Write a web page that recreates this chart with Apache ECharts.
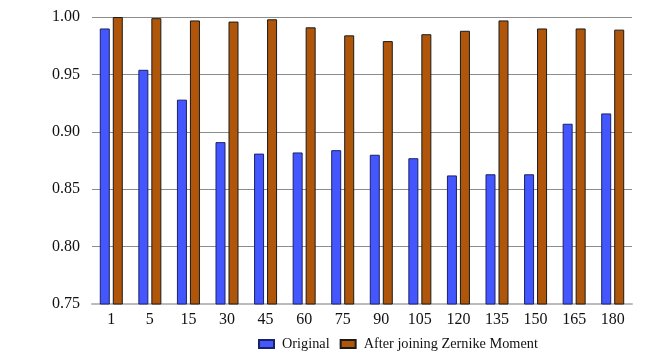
<!DOCTYPE html>
<html>
<head>
<meta charset="utf-8">
<script src="https://cdn.jsdelivr.net/npm/echarts@6/dist/echarts.min.js"></script>
<style>
  html, body { margin: 0; padding: 0; background: #fff; }
  #myChart { width: 659px; height: 364px; }
</style>
</head>
<body>
<div id="myChart"></div>
<script>
// angles / categories
var categories = ['1', '5', '15', '30', '45', '60', '75', '90', '105', '120', '135', '150', '165', '180'];
// series values
var originalValues = [0.990, 0.954, 0.928, 0.891, 0.881, 0.882, 0.884, 0.880, 0.877, 0.862, 0.863, 0.863, 0.907, 0.916];
var zernikeValues = [1.000, 0.999, 0.997, 0.996, 0.998, 0.991, 0.984, 0.979, 0.985, 0.988, 0.997, 0.990, 0.990, 0.989];
var seriesNames = ['Original', 'After joining Zernike Moment'];

var myChart = echarts.init(document.getElementById('myChart'));

var font = 'Liberation Serif, Times New Roman, serif';

var option = {
    animation: false,
    grid: {
        left: 92,
        right: 27,
        top: 17,
        bottom: 60
    },
    legend: {
        data: seriesNames,
        top: 332,
        left: 253,
        icon: 'rect',
        itemWidth: 15,
        itemHeight: 8,
        itemGap: 10,
        textStyle: { fontFamily: font, fontSize: 14.3, color: '#111', padding: [0, 0, 0, 3] }
    },
    xAxis: {
        type: 'category',
        data: categories,
        axisLine: { lineStyle: { color: '#bbb', width: 2 } },
        axisTick: { show: false },
        axisLabel: { fontFamily: font, fontSize: 16, color: '#111', margin: 8 }
    },
    yAxis: {
        type: 'value',
        min: 0.75,
        max: 1.00,
        interval: 0.05,
        axisLine: { show: false },
        axisTick: { show: false },
        axisLabel: {
            fontFamily: font, fontSize: 16, color: '#111', margin: 12,
            formatter: function (v) { return v.toFixed(2); }
        },
        splitLine: { lineStyle: { color: '#8c8c8c', width: 1 } }
    },
    series: [
        {
            name: seriesNames[0],
            type: 'bar',
            data: originalValues,
            barWidth: 10,
            barGap: '30%',
            itemStyle: { color: '#4457ff', borderColor: '#1a2266', borderWidth: 1 }
        },
        {
            name: seriesNames[1],
            type: 'bar',
            data: zernikeValues,
            barWidth: 10,
            itemStyle: { color: '#b0560a', borderColor: '#1a1a1a', borderWidth: 1 }
        }
    ]
};

myChart.setOption(option);
</script>
</body>
</html>
